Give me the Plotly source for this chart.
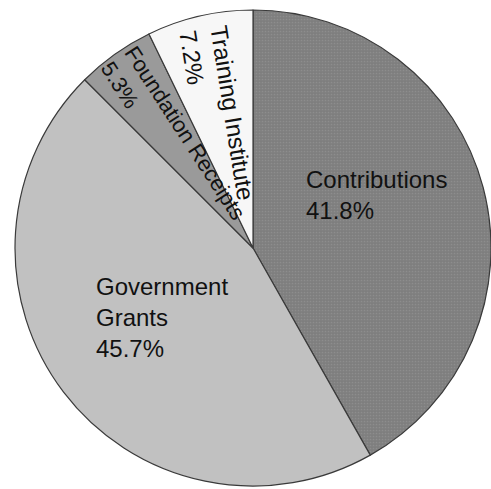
import plotly.graph_objects as go

categories = ["Contributions", "Government Grants", "Foundation Receipts", "Training Institute"]
values = [41.8, 45.7, 5.3, 7.2]
label_lines = [["Contributions"], ["Government", "Grants"], ["Foundation Receipts"], ["Training Institute"]]
colors = ["#808080", "#c1c1c1", "#9a9a9a", "#f7f7f7"]

W, H = 491, 489
cx, cy, r = 253, 248, 238

fig = go.Figure()
fig.add_trace(go.Pie(
    labels=categories,
    values=values,
    sort=False,
    direction="clockwise",
    rotation=0,
    textinfo="none",
    hoverinfo="label+percent",
    showlegend=False,
    marker=dict(
        colors=colors,
        line=dict(color="#3a3a3a", width=1.2),
        pattern=dict(shape=[".", "", "", ""], fgcolor="#9c9c9c", bgcolor="#7e7e7e",
                     size=3, solidity=0.25, fillmode="overlay"),
    ),
    domain=dict(x=[max(0, (cx - r) / W), min(1, (cx + r) / W)],
                y=[max(0, (H - cy - r) / H), min(1, (H - cy + r) / H)]),
))

def px(x, y):
    return x / W, 1 - y / H

def txt(i):
    return "<br>".join(label_lines[i] + [f"{values[i]:.1f}%"])

# annotation placements (pixel centres), angles and font sizes
placements = [
    (304, 195, 0, 24),
    (94, 317, 0, 24),
    (173, 141, 57, 22),
    (217, 115, 81, 24),
]
for i, (x, y, ang, fs) in enumerate(placements):
    xp, yp = px(x, y)
    fig.add_annotation(
        x=xp, y=yp, xref="paper", yref="paper",
        text=txt(i), showarrow=False, align="left",
        xanchor="left" if ang == 0 else "center", yanchor="middle",
        textangle=ang,
        font=dict(family="Liberation Sans, Arial, sans-serif", size=fs, color="#111111"),
    )

fig.update_layout(
    width=W, height=H,
    margin=dict(l=0, r=0, t=0, b=0),
    paper_bgcolor="white", plot_bgcolor="white",
)
fig.write_html(
    "out.html",
    config={"displayModeBar": False},
    post_script="document.body.style.margin='0';document.body.style.overflow='hidden';",
)
